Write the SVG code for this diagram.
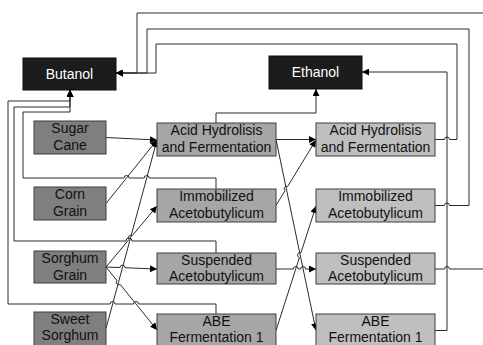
<svg xmlns="http://www.w3.org/2000/svg" width="483" height="345" viewBox="0 0 483 345">
<defs>
<marker id="ah" viewBox="0 0 10 10" refX="10" refY="5" markerWidth="8" markerHeight="7" markerUnits="userSpaceOnUse" orient="auto"><path d="M0,0 L10,5 L0,10 z" fill="#000"/></marker>
<style>
.src rect{fill:#7f7f7f;stroke:#3f3f3f;stroke-width:1}
.mid rect{fill:#a6a6a6;stroke:#3f3f3f;stroke-width:1}
.fin rect{fill:#bfbfbf;stroke:#3f3f3f;stroke-width:1}
.prod rect{fill:#1c1c1c;stroke:#0d0d0d;stroke-width:1}
text{font-family:"Liberation Sans",Arial,sans-serif;font-size:14px;text-anchor:middle;fill:#111}
.prod text{fill:#fff}
#connectors path{fill:none;stroke:#2a2a2a;stroke-width:1;marker-end:url(#ah)}
</style>
</defs>
<rect x="0" y="0" width="483" height="345" fill="#fff"/>

<g id="connectors">
<path d="M106 137.5 L157 140"/>
<path d="M106 203.5 L157 140"/>
<path d="M106 328.5 L157 140"/>
<path d="M106 267 L129 239.5 A2.5 2.5 0 0 1 132.2 235.7 L157 206"/>
<path d="M106 267 L120 267.55 A2.5 2.5 0 0 1 125 267.75 L157 269"/>
<path d="M106 267 L116.9 280.5 A2.5 2.5 0 0 0 120.1 284.3 L157 330"/>
<path d="M276 139.5 L316 139.5"/>
<path d="M276 139.5 L316 330.5"/>
<path d="M276 205.5 L285 190.7 A2.5 2.5 0 0 1 287.6 186.5 L316 140"/>
<path d="M276 269 L293.3 269 A2.5 2.5 0 0 1 298.3 269 L300.6 269 A2.5 2.5 0 0 1 305.6 269 L316 269"/>
<path d="M276 330.5 L299.4 257.6 A2.5 2.5 0 0 1 301 252.6 L316 206"/>
<path d="M435 139.5 H444.5 A2.5 2.5 0 0 1 449.5 139.5 H457 V44 H156 V73 H116"/>
<path d="M435 205.5 H444.5 A2.5 2.5 0 0 1 449.5 205.5 H469 V29 H147 V73 H116"/>
<path d="M435 269 H444.5 A2.5 2.5 0 0 1 449.5 269 H490 V13 H137 V73 H116"/>
<path d="M435 330.5 H447 V72 H362"/>
<path d="M216 123 V113 H316 V89"/>
<path d="M216 189 V178 H149.2 A2.5 2.5 0 0 0 144.2 178 H129 A2.5 2.5 0 0 0 124 178 H23 V112 H70 V90"/>
<path d="M216 253 V241 H132 A3 3 0 0 0 126 241 H14 V107 H70 V90"/>
<path d="M216 314 V304 H138.5 A2.5 2.5 0 0 0 133.5 304 H115.1 A2.5 2.5 0 0 0 110.1 304 H8 V101 H70 V90"/>
</g>

<g id="butanol" class="prod"><rect x="23" y="58" width="93" height="32"/><text x="69.5" y="79">Butanol</text></g>
<g id="ethanol" class="prod"><rect x="269" y="56" width="93" height="33"/><text x="315.5" y="77">Ethanol</text></g>

<g id="sugar-cane" class="src"><rect x="34" y="121" width="72" height="33"/><text x="70" y="133">Sugar</text><text x="70" y="150">Cane</text></g>
<g id="corn-grain" class="src"><rect x="34" y="187" width="72" height="33"/><text x="70" y="199">Corn</text><text x="70" y="216">Grain</text></g>
<g id="sorghum-grain" class="src"><rect x="34" y="251" width="72" height="32"/><text x="70" y="263">Sorghum</text><text x="70" y="280">Grain</text></g>
<g id="sweet-sorghum" class="src"><rect x="34" y="312" width="72" height="36"/><text x="70" y="324">Sweet</text><text x="70" y="340">Sorghum</text></g>

<g id="acid-1" class="mid"><rect x="157" y="123" width="119" height="33"/><text x="216.5" y="135">Acid Hydrolisis</text><text x="216.5" y="152">and Fermentation</text></g>
<g id="immob-1" class="mid"><rect x="157" y="189" width="119" height="33"/><text x="216.5" y="201">Immobilized</text><text x="216.5" y="218">Acetobutylicum</text></g>
<g id="susp-1" class="mid"><rect x="157" y="253" width="119" height="31"/><text x="216.5" y="265">Suspended</text><text x="216.5" y="281">Acetobutylicum</text></g>
<g id="abe-1" class="mid"><rect x="157" y="314" width="119" height="36"/><text x="216.5" y="326">ABE</text><text x="216.5" y="342">Fermentation 1</text></g>

<g id="acid-2" class="fin"><rect x="316" y="123" width="119" height="33"/><text x="375.5" y="135">Acid Hydrolisis</text><text x="375.5" y="152">and Fermentation</text></g>
<g id="immob-2" class="fin"><rect x="316" y="189" width="119" height="33"/><text x="375.5" y="201">Immobilized</text><text x="375.5" y="218">Acetobutylicum</text></g>
<g id="susp-2" class="fin"><rect x="316" y="253" width="119" height="31"/><text x="375.5" y="265">Suspended</text><text x="375.5" y="281">Acetobutylicum</text></g>
<g id="abe-2" class="fin"><rect x="316" y="314" width="119" height="36"/><text x="375.5" y="326">ABE</text><text x="375.5" y="342">Fermentation 1</text></g>
</svg>
